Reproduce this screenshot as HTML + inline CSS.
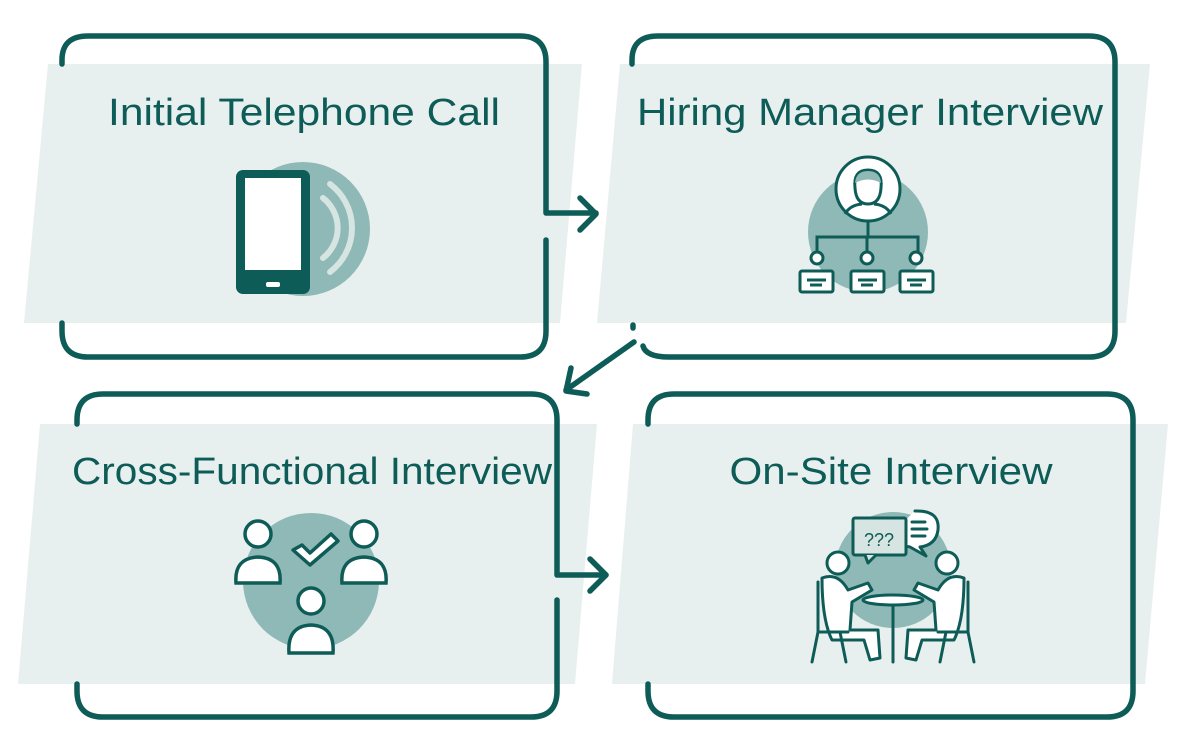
<!DOCTYPE html>
<html><head><meta charset="utf-8"><style>
html,body{margin:0;padding:0;background:#fff;}
svg{display:block;}
text{font-family:"Liberation Sans",sans-serif;fill:#0e5c57;font-size:38px;text-anchor:middle;}
</style></head><body>
<svg width="1193" height="751" viewBox="0 0 1193 751" xmlns="http://www.w3.org/2000/svg">
<g fill="#e8f0ef">
<polygon points="48,64 582,64 560,323 24,323"/>
<polygon points="620,64 1150,64 1126,323 597,323"/>
<polygon points="40,424 597,424 575,684 18,684"/>
<polygon points="633,424 1168,424 1145,684 612,684"/>
</g>
<g fill="none" stroke="#0e5c57" stroke-width="5.5" stroke-linecap="round" stroke-linejoin="round">
<path d="M62,64 V60 Q62,36 88,36 H520 Q546,36 546,62 V213 H596"/>
<path d="M580,198 L596,214 L580,230"/>
<path d="M546,240 V331 Q546,357 520,357 H88 Q62,357 62,331 V323"/>
<path d="M632,64 V60 Q632,36 658,36 H1089 Q1115,36 1115,62 V331 Q1115,357 1089,357 H669 Q646,357 643,346"/>
<path d="M633,325 V328"/>
<path d="M634,342 L566,390"/>
<path d="M571,368 L566,391 L587,394"/>
<path d="M77,424 V420 Q77,394 103,394 H531 Q557,394 557,420 V575 H606"/>
<path d="M590,559 L606,575 L590,591"/>
<path d="M557,600 V691 Q557,717 531,717 H103 Q77,717 77,691 V684"/>
<path d="M648,424 V420 Q648,394 674,394 H1107 Q1133,394 1133,420 V691 Q1133,717 1107,717 H674 Q648,717 648,691 V684"/>
</g>
<text x="304" y="125" textLength="392" lengthAdjust="spacingAndGlyphs">Initial Telephone Call</text>
<text x="870" y="125" textLength="466" lengthAdjust="spacingAndGlyphs">Hiring Manager Interview</text>
<text x="312" y="484" textLength="480" lengthAdjust="spacingAndGlyphs">Cross-Functional Interview</text>
<text x="891" y="484" textLength="323" lengthAdjust="spacingAndGlyphs">On-Site Interview</text>

<circle cx="303" cy="229" r="67" fill="#8fb9b6"/>
<path d="M330,184 A55,55 0 0 1 330,272" fill="none" stroke="#d6e4e2" stroke-width="6" stroke-linecap="round"/>
<path d="M323,198 A38,38 0 0 1 323,258" fill="none" stroke="#d6e4e2" stroke-width="6" stroke-linecap="round"/>
<rect x="236" y="170" width="74" height="124" rx="7" fill="#0e5c57"/>
<rect x="245" y="178" width="56" height="92" fill="#fff"/>
<rect x="266" y="282" width="14" height="5" rx="2" fill="#fff"/>

<circle cx="868" cy="232" r="60" fill="#8fb9b6"/>
<g stroke="#0e5c57" stroke-width="3" fill="#fff">
<circle cx="868" cy="189" r="32"/>
<path d="M868,221 V237 M817,252 V237 H918 V252 M867,237 V252" fill="none"/>
<circle cx="817" cy="258" r="6"/><circle cx="867" cy="258" r="6"/><circle cx="916" cy="258" r="6"/>
<rect x="800" y="271" width="33" height="21" rx="2"/>
<rect x="851" y="271" width="33" height="21" rx="2"/>
<rect x="900" y="271" width="33" height="21" rx="2"/>
<path d="M807,280 H826 M810,285 H822 M858,280 H877 M861,285 H873 M907,280 H926 M910,285 H922" fill="none"/>
<path d="M855,188 Q853,170 868,170 Q883,170 881,188 Q880,204 868,204 Q856,204 855,188 Z" fill="#fff"/>
<path d="M855,183 Q856,171 868,171 Q880,171 881,183 Q868,176 855,183Z" fill="#8fb9b6" stroke="none"/>
<path d="M845,214 Q850,205 862,204 M891,214 Q886,205 874,204" fill="none"/>
</g>

<circle cx="311" cy="581" r="68" fill="#8fb9b6"/>
<g stroke="#0e5c57" stroke-width="3.5" fill="#fff">
<circle cx="258" cy="534" r="13"/>
<path d="M236,583 Q234,558 258,557 Q282,558 280,583 Z"/>
<circle cx="364" cy="534" r="13"/>
<path d="M342,583 Q340,558 364,557 Q388,558 386,583 Z"/>
<circle cx="311" cy="601" r="13"/>
<path d="M289,653 Q287,626 311,625 Q335,626 333,653 Z"/>
<path d="M293,550 L302,545 L310,553 L331,534 L338,541 L310,565 Z" stroke-linejoin="round"/>
</g>

<circle cx="893" cy="570" r="58" fill="#8fb9b6"/>
<g stroke="#0e5c57" stroke-width="3" fill="#fff" stroke-linejoin="round" stroke-linecap="round">
<path d="M915,511 Q940,510 938,530 Q936,545 920,547 L926,556 L910,547 Q895,545 895,530"/>
<path d="M912,522 H925 M912,529 H927 M912,536 H925" fill="none"/>
<rect x="853" y="518" width="53" height="37" rx="2" fill="#d6e4e2"/>
<path d="M865,555 L868,563 L876,555" fill="#d6e4e2"/>
<text x="879" y="546" style="font-size:18px;fill:#0e5c57;stroke:none">???</text>
<ellipse cx="893" cy="600" rx="30" ry="5"/>
<path d="M893,605 V662" fill="none"/>
<circle cx="838" cy="563" r="11"/>
<circle cx="947" cy="563" r="11"/>
<path d="M822,578 Q838,572 848,590 L868,583 L872,590 L852,602 L850,630 L878,630 L880,658 L870,660 L864,640 L832,640 Q822,620 822,578Z"/>
<path d="M964,578 Q948,572 938,590 L918,583 L914,590 L934,602 L936,630 L908,630 L906,658 L916,660 L922,640 L954,640 Q964,620 964,578Z"/>
<path d="M818,582 V632 H848 M818,632 L812,662 M840,632 L846,662 M968,582 V632 H938 M968,632 L974,662 M946,632 L940,662" fill="none"/>
</g>
</svg>
</body></html>
